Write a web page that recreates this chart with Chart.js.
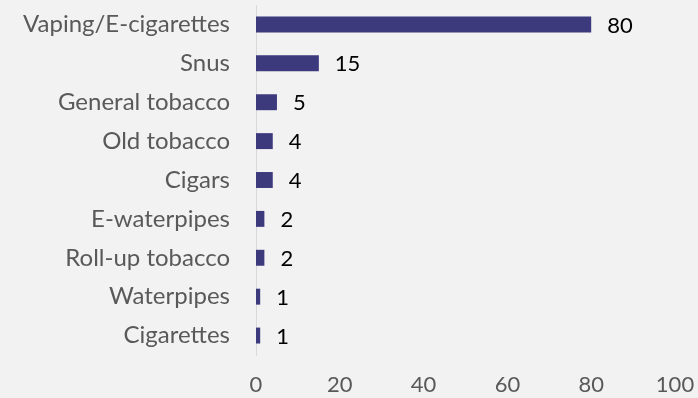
<!DOCTYPE html>
<html>
<head>
<meta charset="utf-8">
<script src="https://cdn.jsdelivr.net/npm/chart.js@4"></script>
<style>
  html, body { margin: 0; padding: 0; background: #F2F2F2; }
  #wrap { width: 698px; height: 398px; }
</style>
</head>
<body>
<div id="wrap"><canvas id="c" width="698" height="398"></canvas></div>
<script>
// Products used, share (%)
const categories = [
  "Vaping/E-cigarettes", "Snus", "General tobacco", "Old tobacco", "Cigars",
  "E-waterpipes", "Roll-up tobacco", "Waterpipes", "Cigarettes"
];
const values = [80, 15, 5, 4, 4, 2, 2, 1, 1];
const xTicks = [0, 20, 40, 60, 80, 100];

const FONT = "Lato, 'Open Sans', sans-serif";

// Writes each bar's value just past its end
const valueLabels = {
  id: "valueLabels",
  afterDatasetsDraw(chart) {
    const ctx = chart.ctx;
    const meta = chart.getDatasetMeta(0);
    ctx.save();
    ctx.font = "22px " + FONT;
    ctx.fillStyle = "#000000";
    ctx.textAlign = "left";
    ctx.textBaseline = "middle";
    meta.data.forEach((bar, i) => {
      ctx.fillText(String(values[i]), bar.x + 16, bar.y + 1);
    });
    ctx.restore();
  }
};

// Keep the plot area fixed: no extra room reserved for overhanging tick labels
const noPad = s => { s.paddingLeft = 0; s.paddingRight = 0; s.paddingTop = 0; s.paddingBottom = 0; };

new Chart(document.getElementById("c"), {
  type: "bar",
  data: {
    labels: categories,
    datasets: [{
      data: values,
      backgroundColor: "#3C397D",
      borderWidth: 0,
      categoryPercentage: 0.82,
      barPercentage: 0.5
    }]
  },
  options: {
    indexAxis: "y",
    responsive: false,
    animation: false,
    layout: { padding: { top: 5, right: 23, bottom: 0, left: 0 } },
    plugins: { legend: { display: false }, tooltip: { enabled: false } },
    scales: {
      x: {
        min: 0, max: 100,
        afterBuildTicks: s => { s.ticks = xTicks.map(v => ({ value: v })); },
        grid: { display: false, drawTicks: false },
        border: { display: false },
        ticks: { color: "#595959", font: { family: FONT, size: 22 }, padding: 17, maxRotation: 0 },
        afterFit: s => { s.height = 43; noPad(s); }
      },
      y: {
        grid: { display: false, drawTicks: false },
        border: { display: true, color: "#D9D9D9", width: 1 },
        ticks: { color: "#595959", font: { family: FONT, size: 24 }, padding: 26 },
        afterFit: s => { s.width = 256; noPad(s); }
      }
    }
  },
  plugins: [valueLabels]
});
</script>
</body>
</html>
